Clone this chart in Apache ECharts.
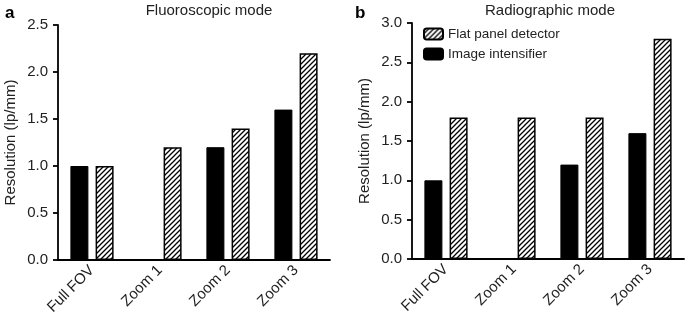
<!DOCTYPE html>
<html><head><meta charset="utf-8">
<script src="https://cdn.jsdelivr.net/npm/echarts@6/dist/echarts.min.js"></script>
<style>html,body{margin:0;padding:0;background:#fff}#c{width:685px;height:319px}</style>
</head><body><div id="c"></div>
<script>
const categories = ['Full FOV', 'Zoom 1', 'Zoom 2', 'Zoom 3'];
const fluoroIntensifier = [1.0, null, 1.2, 1.6];
const fluoroFlatPanel = [1.0, 1.2, 1.4, 2.2];
const radioIntensifier = [1.0, null, 1.2, 1.6];
const radioFlatPanel = [1.8, 1.8, 1.8, 2.8];
const fluoroTicks = {min: 0, max: 2.5, interval: 0.5};
const radioTicks = {min: 0, max: 3.0, interval: 0.5};

function hatch() {
  const s = 5;
  const c = document.createElement('canvas');
  c.width = s; c.height = s;
  const g = c.getContext('2d');
  g.fillStyle = '#fff'; g.fillRect(0, 0, s, s);
  g.strokeStyle = '#000'; g.lineWidth = 1.3;
  g.beginPath();
  g.moveTo(0, s); g.lineTo(s, 0);
  g.moveTo(-1, 1); g.lineTo(1, -1);
  g.moveTo(s - 1, s + 1); g.lineTo(s + 1, s - 1);
  g.stroke();
  return c;
}
const hatchFill = {image: hatch(), repeat: 'repeat'};
const font = 'Liberation Sans, Arial, sans-serif';
const fmt = v => v.toFixed(1);
const toData = arr => arr.map(v => v === null ? '-' : v);

function xAx(gi) {
  return {
    type: 'category', gridIndex: gi, data: categories,
    axisLine: {lineStyle: {color: '#000', width: 1.8}},
    axisTick: {alignWithLabel: true, length: 5, lineStyle: {color: '#000', width: 1.8}},
    axisLabel: {rotate: 45, color: '#222', fontSize: 15, fontFamily: font, margin: 8}
  };
}
function yAx(gi, t) {
  return {
    type: 'value', gridIndex: gi, min: t.min, max: t.max, interval: t.interval,
    name: 'Resolution (lp/mm)', nameLocation: 'middle', nameGap: 40,
    nameTextStyle: {color: '#222', fontSize: 15, fontFamily: font},
    axisLine: {show: true, lineStyle: {color: '#000', width: 1.8}},
    axisTick: {show: true, length: 5, lineStyle: {color: '#000', width: 1.8}},
    splitLine: {show: false},
    axisLabel: {formatter: fmt, color: '#222', fontSize: 15, fontFamily: font, margin: 10}
  };
}
const blackStyle = {color: '#000', borderColor: '#000', borderWidth: 1};
const hatchStyle = {color: hatchFill, borderColor: '#000', borderWidth: 1.5};

const chart = echarts.init(document.getElementById('c'), null, {renderer: 'canvas'});
chart.setOption({
  animation: false,
  title: [
    {text: 'Fluoroscopic mode', left: 204, top: -2, textAlign: 'center', textStyle: {fontSize: 15, fontWeight: 'normal', color: '#222', fontFamily: font}},
    {text: 'Radiographic mode', left: 545, top: -2, textAlign: 'center', textStyle: {fontSize: 15, fontWeight: 'normal', color: '#222', fontFamily: font}},
    {text: 'a', left: 0, top: 0, textStyle: {fontSize: 17, fontWeight: 'bold', color: '#000', fontFamily: font}},
    {text: 'b', left: 350, top: 0, textStyle: {fontSize: 17, fontWeight: 'bold', color: '#000', fontFamily: font}}
  ],
  legend: {
    data: ['Flat panel detector', 'Image intensifier'],
    orient: 'vertical', left: 418, top: 22, itemWidth: 19, itemHeight: 11, itemGap: 6,
    textStyle: {fontSize: 13.5, color: '#222', fontFamily: font}
  },
  grid: [
    {left: 58, top: 25, width: 272, bottom: 59},
    {left: 412, top: 23, width: 272, bottom: 60}
  ],
  xAxis: [xAx(0), xAx(1)],
  yAxis: [yAx(0, fluoroTicks), yAx(1, radioTicks)],
  series: [
    {name: 'Image intensifier', type: 'bar', xAxisIndex: 0, yAxisIndex: 0, data: toData(fluoroIntensifier), barWidth: 18, barGap: '40%', itemStyle: blackStyle},
    {name: 'Flat panel detector', type: 'bar', xAxisIndex: 0, yAxisIndex: 0, data: toData(fluoroFlatPanel), barWidth: 18, barGap: '40%', itemStyle: hatchStyle},
    {name: 'Image intensifier', type: 'bar', xAxisIndex: 1, yAxisIndex: 1, data: toData(radioIntensifier), barWidth: 18, barGap: '40%', itemStyle: blackStyle},
    {name: 'Flat panel detector', type: 'bar', xAxisIndex: 1, yAxisIndex: 1, data: toData(radioFlatPanel), barWidth: 18, barGap: '40%', itemStyle: hatchStyle}
  ]
});
</script></body></html>
